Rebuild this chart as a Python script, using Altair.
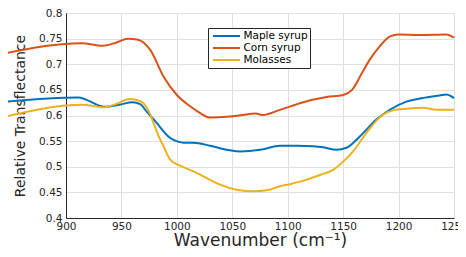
import altair as alt
import pandas as pd

series_names = ["Maple syrup", "Corn syrup", "Molasses"]
series_colors = ["#0072BD", "#D95319", "#EDB120"]

wn_maple = [840, 911, 935, 948, 960, 967, 973, 982, 985, 994, 1001, 1006, 1015, 1030, 1048, 1057,
            1075, 1093, 1108, 1123, 1132, 1144, 1153, 1165, 1180, 1192, 1207, 1222, 1237, 1243, 1250]
val_maple = [0.626, 0.635, 0.617, 0.621, 0.626, 0.622, 0.607, 0.585, 0.577, 0.556, 0.549, 0.547, 0.547,
             0.541, 0.532, 0.530, 0.533, 0.541, 0.541, 0.540, 0.538, 0.533, 0.537, 0.559, 0.592, 0.611,
             0.627, 0.634, 0.639, 0.641, 0.634]

wn_corn = [840, 914, 933, 945, 956, 965, 976, 988, 1000, 1012, 1020, 1030, 1048, 1066, 1071, 1077,
           1093, 1111, 1135, 1150, 1158, 1167, 1174, 1183, 1192, 1200, 1219, 1243, 1250]
val_corn = [0.719, 0.741, 0.736, 0.742, 0.750, 0.748, 0.728, 0.676, 0.640, 0.618, 0.606, 0.596, 0.598,
            0.603, 0.604, 0.601, 0.611, 0.624, 0.636, 0.640, 0.650, 0.683, 0.709, 0.735, 0.754, 0.758,
            0.757, 0.758, 0.752]

wn_mol = [840, 915, 934, 946, 957, 967, 976, 979, 985, 988, 994, 1003, 1015, 1027, 1039, 1054, 1069,
          1081, 1093, 1102, 1111, 1129, 1141, 1150, 1159, 1171, 1186, 1195, 1207, 1222, 1234, 1250]
val_mol = [0.595, 0.621, 0.616, 0.623, 0.632, 0.628, 0.602, 0.585, 0.553, 0.540, 0.514, 0.502, 0.491,
           0.478, 0.465, 0.455, 0.452, 0.454, 0.462, 0.466, 0.471, 0.484, 0.494, 0.510, 0.530, 0.566,
           0.602, 0.610, 0.613, 0.615, 0.611, 0.611]

x_ticks = [900, 950, 1000, 1050, 1100, 1150, 1200, 1250]
y_ticks = [0.4, 0.45, 0.5, 0.55, 0.6, 0.65, 0.7, 0.75, 0.8]

rows = []
for name, wn, vals in [(series_names[0], wn_maple, val_maple),
                       (series_names[1], wn_corn, val_corn),
                       (series_names[2], wn_mol, val_mol)]:
    for i, (w, v) in enumerate(zip(wn, vals)):
        rows.append({"series": name, "wn": w, "val": v, "order": i})
df = pd.DataFrame(rows)

FONT = "DejaVu Sans"
TXT = "#262626"

chart = alt.Chart(df).mark_line(strokeWidth=2, interpolate="monotone").encode(
    x=alt.X("wn:Q", scale=alt.Scale(domain=[900, 1250], nice=False, zero=False),
            axis=alt.Axis(values=x_ticks, format="d", title="Wavenumber (cm⁻¹)",
                          titleFontSize=17, titleFontWeight="normal",
                          titleBaseline="alphabetic", titleY=27.5,
                          labelPadding=3, labelFlush=False)),
    y=alt.Y("val:Q", scale=alt.Scale(domain=[0.4, 0.8], nice=False, zero=False),
            axis=alt.Axis(values=y_ticks, format=".2~f", title="Relative Transflectance",
                          titleFontSize=14, titleFontWeight="normal", titlePadding=11,
                          labelPadding=4, labelFlush=False)),
    color=alt.Color("series:N", sort=series_names,
                    scale=alt.Scale(domain=series_names, range=series_colors),
                    legend=alt.Legend(title=None, orient="none", legendX=142, legendY=15,
                                      fillColor="white", strokeColor=TXT, padding=2,
                                      symbolType="M-0.6,0H4.8", symbolSize=100,
                                      symbolStrokeWidth=2,
                                      labelFontSize=10.5, labelFont=FONT, labelColor="black",
                                      rowPadding=-1.5, labelOffset=21.4)),
    order="order:Q",
    detail="series:N",
).properties(
    width=388, height=205,
    autosize=alt.AutoSizeParams(type="none"),
    padding={"left": 58, "top": 5, "right": 4, "bottom": 31},
).configure_view(stroke=None).configure_axis(
    labelFont=FONT, titleFont=FONT, labelFontSize=10.5, labelColor=TXT, titleColor=TXT,
    domainColor=TXT, domainWidth=1, ticks=False, gridColor="#e0e0e0", gridWidth=1,
    labelOverlap=False,
)

chart.save("out.html", embed_options={"renderer": "svg", "actions": False})
